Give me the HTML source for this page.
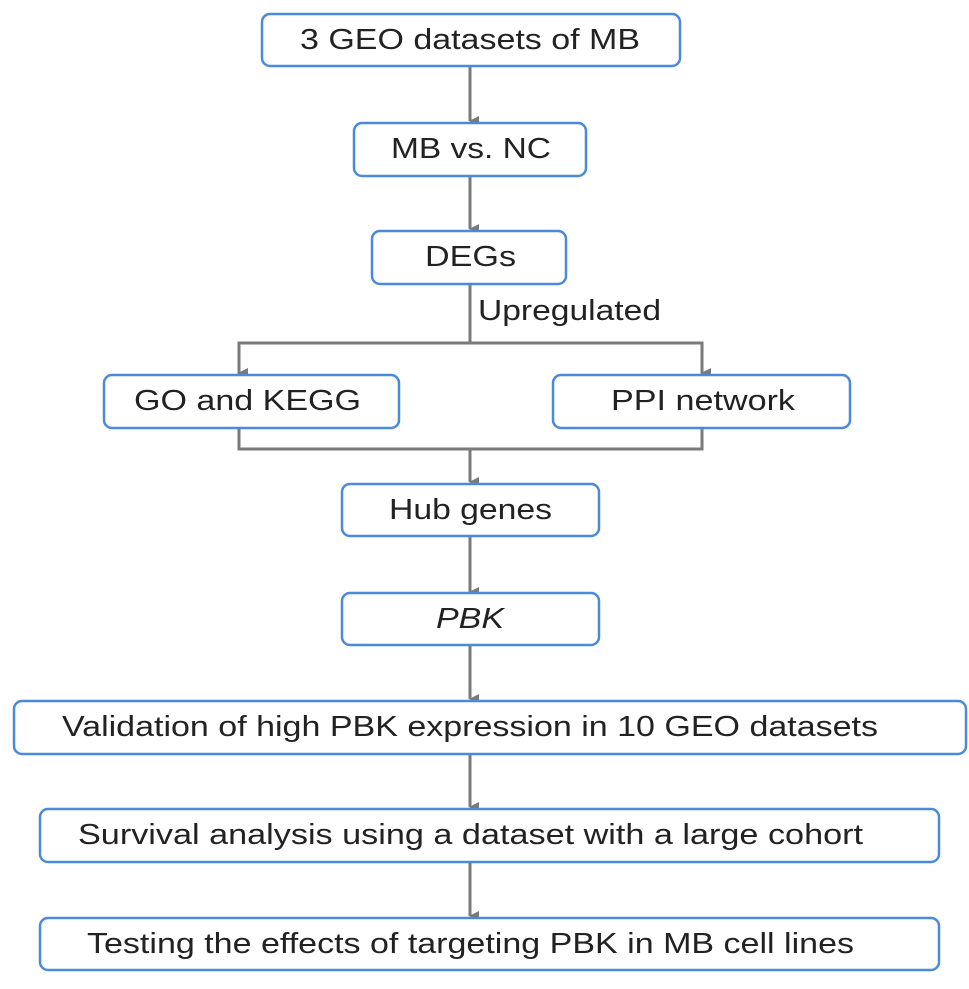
<!DOCTYPE html>
<html><head><style>html,body{margin:0;padding:0;background:#fff;}</style></head>
<body>
<svg width="969" height="984" viewBox="0 0 969 984" xmlns="http://www.w3.org/2000/svg" font-family="Liberation Sans, Arial, sans-serif" font-size="29" fill="#222">
<defs><marker id="a" markerWidth="10" markerHeight="10" refX="5" refY="9" orient="auto" markerUnits="userSpaceOnUse"><path d="M0,0 L10,0 L5,10 z" fill="#7a7a7a"/></marker></defs>
<g stroke="#7a7a7a" stroke-width="3" fill="none">
<line x1="470" y1="66" x2="470" y2="121" marker-end="url(#a)"/>
<line x1="470" y1="176" x2="470" y2="229" marker-end="url(#a)"/>
<polyline points="470,284 470,343"/>
<polyline points="239,374 239,343 702,343 702,374"/>
<line x1="239" y1="352" x2="239" y2="373" marker-end="url(#a)"/>
<line x1="702" y1="352" x2="702" y2="373" marker-end="url(#a)"/>
<polyline points="239,428 239,449 702,449 702,428"/>
<line x1="470" y1="449" x2="470" y2="482" marker-end="url(#a)"/>
<line x1="470" y1="536" x2="470" y2="592" marker-end="url(#a)"/>
<line x1="470" y1="645" x2="470" y2="699" marker-end="url(#a)"/>
<line x1="470" y1="754" x2="470" y2="807" marker-end="url(#a)"/>
<line x1="470" y1="862" x2="470" y2="916" marker-end="url(#a)"/>
</g>
<g stroke="#4a8ad8" stroke-width="2.5" fill="#fff">
<rect x="262" y="14" width="418" height="52" rx="8"/>
<rect x="354" y="123" width="232" height="53" rx="8"/>
<rect x="372" y="231" width="194" height="53" rx="8"/>
<rect x="104" y="375" width="295" height="53" rx="8"/>
<rect x="553" y="375" width="297" height="53" rx="8"/>
<rect x="342" y="484" width="257" height="52" rx="8"/>
<rect x="342" y="593" width="257" height="52" rx="8"/>
<rect x="14" y="701" width="952" height="53" rx="8"/>
<rect x="40" y="809" width="899" height="53" rx="8"/>
<rect x="40" y="918" width="899" height="52" rx="8"/>
</g>
<g dominant-baseline="central" stroke="none">
<text x="300" y="40" textLength="340" lengthAdjust="spacingAndGlyphs">3 GEO datasets of MB</text>
<text x="391" y="149" textLength="160" lengthAdjust="spacingAndGlyphs">MB vs. NC</text>
<text x="425" y="257" textLength="91" lengthAdjust="spacingAndGlyphs">DEGs</text>
<text x="478" y="311" textLength="183" lengthAdjust="spacingAndGlyphs">Upregulated</text>
<text x="134" y="401" textLength="227" lengthAdjust="spacingAndGlyphs">GO and KEGG</text>
<text x="611" y="401" textLength="184" lengthAdjust="spacingAndGlyphs">PPI network</text>
<text x="389" y="510" textLength="163" lengthAdjust="spacingAndGlyphs">Hub genes</text>
<text x="436" y="619" font-style="italic" textLength="68" lengthAdjust="spacingAndGlyphs">PBK</text>
<text x="62" y="727" textLength="816" lengthAdjust="spacingAndGlyphs">Validation of high PBK expression in 10 GEO datasets</text>
<text x="78" y="835" textLength="785" lengthAdjust="spacingAndGlyphs">Survival analysis using a dataset with a large cohort</text>
<text x="87" y="944" textLength="767" lengthAdjust="spacingAndGlyphs">Testing the effects of targeting PBK in MB cell lines</text>
</g>
</svg>
</body></html>
